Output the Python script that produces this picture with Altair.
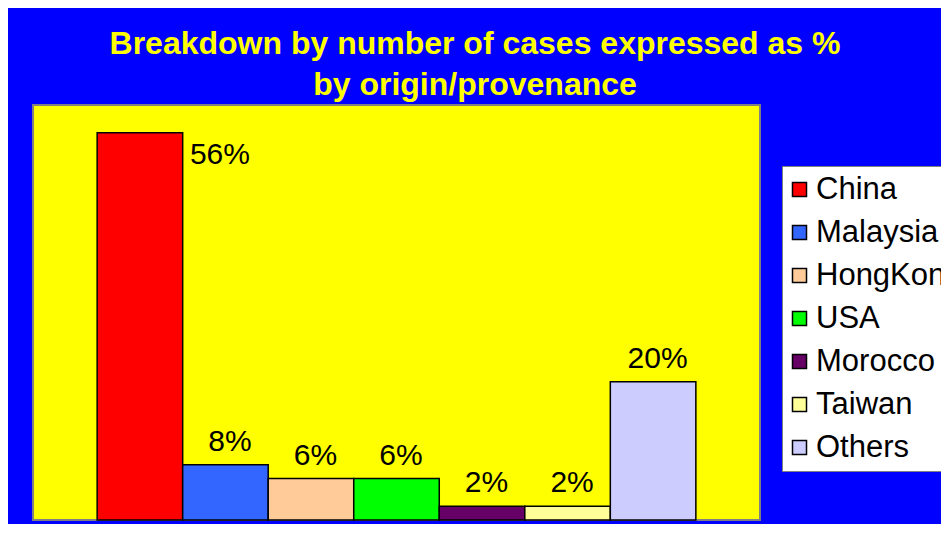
import altair as alt
import pandas as pd

countries = ["China", "Malaysia", "HongKong", "USA", "Morocco", "Taiwan", "Others"]
percentages = [56, 8, 6, 6, 2, 2, 20]
colors = ["#FF0000", "#3366FF", "#FFCC99", "#00FF00", "#660066", "#FFFF99", "#CCCCFF"]
title_lines = ["Breakdown by number of cases expressed as %", "by origin/provenance"]

df = pd.DataFrame({
    "country": countries,
    "pct": percentages,
    "label": [f"{p}%" for p in percentages],
})

FONT = "Liberation Sans"

x_enc = alt.X("country:N", sort=countries, axis=None,
              scale=alt.Scale(paddingInner=0, paddingOuter=0.75))
y_enc = alt.Y("pct:Q", axis=None, scale=alt.Scale(domain=[0, 60], nice=False))

bars = alt.Chart(df).mark_bar(stroke="black", strokeWidth=1.5).encode(
    x=x_enc,
    y=y_enc,
    color=alt.Color("country:N", sort=countries,
                    scale=alt.Scale(domain=countries, range=colors),
                    legend=alt.Legend(title=None)),
)

labels_other = alt.Chart(df).transform_filter(
    alt.datum.country != "China"
).mark_text(font=FONT, fontSize=30, color="black", baseline="alphabetic",
            align="center", dx=4.5, dy=-14).encode(
    x=x_enc, y=y_enc, text="label:N"
)

labels_china = alt.Chart(df).transform_filter(
    alt.datum.country == "China"
).mark_text(font=FONT, fontSize=30, color="black", baseline="middle",
            align="left", dx=50, dy=22.5).encode(
    x=x_enc, y=y_enc, text="label:N"
)

chart = alt.layer(bars, labels_other, labels_china).properties(
    width=727,
    height=415,
    padding={"left": 25, "top": 97, "right": 181, "bottom": 4},
    autosize=alt.AutoSizeParams(type="none"),
    background="#0000FF",
    title=alt.TitleParams(
        text=title_lines,
        font=FONT, fontSize=32, fontWeight="bold", color="#FFFF00",
        lineHeight=41, anchor="middle", baseline="bottom", offset=-29, dx=78.5,
    ),
).configure_view(
    fill="#FFFF00", stroke="#808080", strokeWidth=2
).configure_legend(
    orient="none", legendX=749, legendY=61,
    fillColor="white", strokeColor="#808080", padding=8,
    symbolType="square", symbolSize=196, symbolStrokeColor="black",
    symbolStrokeWidth=1.5, symbolOpacity=1, symbolOffset=-6,
    labelFont=FONT, labelFontSize=31, labelColor="black",
    rowPadding=11, labelOffset=1, labelLimit=0,
)

chart.save("out.html", embed_options={"renderer": "svg", "actions": False})
